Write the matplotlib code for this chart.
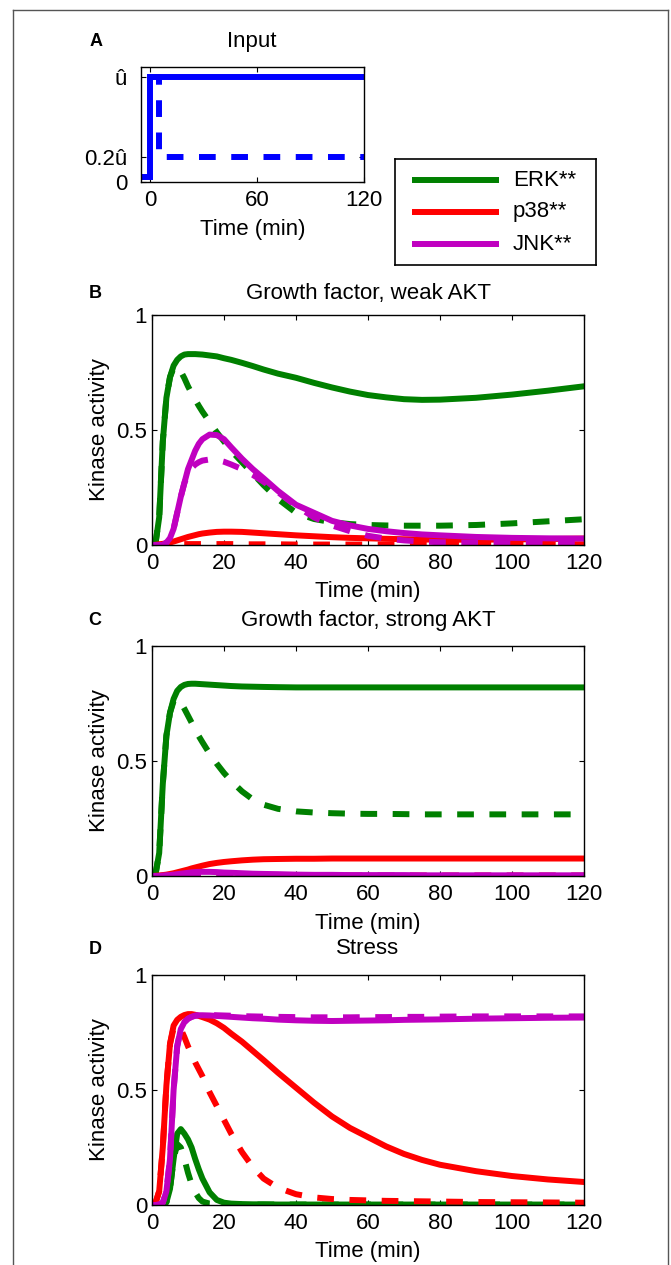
import numpy as np
import matplotlib.pyplot as plt
from matplotlib.lines import Line2D

plt.rcParams['font.family'] = ['Liberation Sans', 'DejaVu Sans']

# ---- data -----------------------------------------------------------------
# panel A, input signal
input_t_full = [-5, 0, 0, 120]
input_full = [0, 0, 1, 1]
input_t_pulse = [0, 5, 5, 120]
input_pulse = [1, 1, 0.2, 0.2]

# common time grid (min) for panels B-D
T = [0, 1, 2, 3, 4, 5, 6, 7, 8, 9, 10, 11, 12, 13, 14, 16, 18, 20, 22, 25,
     28, 31, 35, 40, 45, 50, 55, 60, 65, 70, 75, 80, 90, 100, 110, 120]

# B: growth factor, weak AKT  (solid = sustained input, dashed = transient)
erk_b = [0, 0.01, 0.12, 0.45, 0.64, 0.73, 0.78, 0.805, 0.82, 0.828,
         0.83, 0.83, 0.83, 0.829, 0.828, 0.824, 0.82, 0.812, 0.805, 0.792,
         0.778, 0.763, 0.745, 0.727, 0.705, 0.685, 0.667, 0.652, 0.642, 0.634,
         0.631, 0.632, 0.64, 0.654, 0.671, 0.69]
erk_b_tr = [0, 0.01, 0.12, 0.45, 0.64, 0.73, 0.77, 0.775, 0.755, 0.725,
            0.69, 0.66, 0.632, 0.605, 0.58, 0.535, 0.49, 0.45, 0.41, 0.36,
            0.31, 0.26, 0.2, 0.14, 0.113, 0.099, 0.091, 0.087, 0.085, 0.084,
            0.084, 0.084, 0.087, 0.094, 0.103, 0.112]
p38_b = [0, 0.001, 0.003, 0.005, 0.008, 0.011, 0.015, 0.02, 0.025, 0.03,
         0.035, 0.039, 0.043, 0.047, 0.05, 0.054, 0.057, 0.058, 0.058, 0.057,
         0.054, 0.051, 0.047, 0.042, 0.038, 0.034, 0.031, 0.029, 0.027, 0.025,
         0.024, 0.023, 0.023, 0.024, 0.026, 0.028]
p38_b_tr = [0, 0, 0.001, 0.001, 0.002, 0.003, 0.003, 0.004, 0.004, 0.004,
            0.004, 0.004, 0.004, 0.004, 0.004, 0.004, 0.004, 0.004, 0.004, 0.003,
            0.003, 0.003, 0.003, 0.002, 0.002, 0.002, 0.002, 0.002, 0.002, 0.002,
            0.002, 0.002, 0.002, 0.002, 0.002, 0.002]
jnk_b = [0, 0, 0, 0, 0.01, 0.03, 0.07, 0.14, 0.21, 0.27,
         0.33, 0.37, 0.41, 0.44, 0.46, 0.48, 0.478, 0.46, 0.425, 0.375,
         0.33, 0.29, 0.235, 0.175, 0.14, 0.105, 0.085, 0.07, 0.06, 0.052,
         0.046, 0.042, 0.035, 0.031, 0.029, 0.028]
jnk_b_tr = [0, 0, 0, 0, 0.01, 0.03, 0.07, 0.14, 0.21, 0.27,
            0.31, 0.335, 0.35, 0.36, 0.367, 0.372, 0.37, 0.362, 0.35, 0.33,
            0.305, 0.275, 0.23, 0.17, 0.12, 0.085, 0.06, 0.04, 0.028, 0.02,
            0.015, 0.012, 0.01, 0.008, 0.007, 0.006]

# C: growth factor, strong AKT
erk_c = [0, 0.01, 0.1, 0.4, 0.61, 0.71, 0.77, 0.805, 0.822, 0.831,
         0.835, 0.836, 0.836, 0.835, 0.834, 0.832, 0.83, 0.828, 0.826, 0.824,
         0.823, 0.822, 0.821, 0.82, 0.82, 0.82, 0.82, 0.82, 0.82, 0.82,
         0.82, 0.82, 0.82, 0.82, 0.82, 0.82]
erk_c_tr = [0, 0.01, 0.1, 0.4, 0.61, 0.71, 0.76, 0.77, 0.755, 0.727,
            0.697, 0.667, 0.637, 0.608, 0.582, 0.532, 0.488, 0.448, 0.413, 0.368,
            0.333, 0.31, 0.292, 0.281, 0.276, 0.273, 0.271, 0.27, 0.27, 0.269,
            0.268, 0.268, 0.268, 0.268, 0.268, 0.268]
p38_c = [0, 0.001, 0.002, 0.004, 0.006, 0.009, 0.012, 0.016, 0.02, 0.024,
         0.028, 0.033, 0.037, 0.041, 0.045, 0.052, 0.057, 0.061, 0.064, 0.068,
         0.071, 0.073, 0.074, 0.075, 0.075, 0.076, 0.076, 0.076, 0.076, 0.076,
         0.076, 0.076, 0.076, 0.076, 0.076, 0.076]
p38_c_tr = [0, 0, 0.001, 0.001, 0.001, 0.002, 0.002, 0.002, 0.002, 0.002,
            0.002, 0.002, 0.002, 0.002, 0.002, 0.002, 0.002, 0.002, 0.002, 0.002,
            0.002, 0.002, 0.002, 0.002, 0.002, 0.002, 0.002, 0.002, 0.002, 0.002,
            0.002, 0.002, 0.002, 0.002, 0.002, 0.002]
jnk_c = [0, 0, 0, 0.001, 0.002, 0.004, 0.006, 0.008, 0.01, 0.012,
         0.014, 0.016, 0.017, 0.018, 0.018, 0.018, 0.017, 0.015, 0.014, 0.012,
         0.01, 0.009, 0.008, 0.006, 0.005, 0.005, 0.004, 0.004, 0.004, 0.004,
         0.003, 0.003, 0.003, 0.003, 0.003, 0.003]
jnk_c_tr = [0, 0, 0, 0.001, 0.002, 0.003, 0.004, 0.005, 0.006, 0.007,
            0.008, 0.008, 0.008, 0.008, 0.008, 0.007, 0.007, 0.006, 0.005, 0.004,
            0.004, 0.003, 0.003, 0.002, 0.002, 0.002, 0.001, 0.001, 0.001, 0.001,
            0.001, 0.001, 0.001, 0.001, 0.001, 0.001]

# D: stress
erk_d = [0, 0, 0.002, 0.005, 0.012, 0.07, 0.2, 0.31, 0.33, 0.31,
         0.285, 0.25, 0.2, 0.155, 0.115, 0.055, 0.022, 0.01, 0.006, 0.004,
         0.003, 0.003, 0.002, 0.002, 0.002, 0.002, 0.002, 0.002, 0.002, 0.002,
         0.002, 0.002, 0.002, 0.002, 0.002, 0.002]
erk_d_tr = [0, 0, 0.002, 0.005, 0.012, 0.07, 0.2, 0.265, 0.25, 0.2,
            0.14, 0.09, 0.055, 0.03, 0.015, 0.006, 0.004, 0.003, 0.002, 0.002,
            0.002, 0.002, 0.002, 0.002, 0.002, 0.002, 0.002, 0.002, 0.002, 0.002,
            0.002, 0.002, 0.002, 0.002, 0.002, 0.002]
p38_d = [0, 0.01, 0.06, 0.25, 0.52, 0.7, 0.78, 0.805, 0.818, 0.826,
         0.83, 0.83, 0.827, 0.822, 0.817, 0.806, 0.79, 0.77, 0.745, 0.71,
         0.67, 0.63, 0.575, 0.51, 0.445, 0.385, 0.335, 0.295, 0.255, 0.222,
         0.196, 0.175, 0.147, 0.126, 0.111, 0.1]
p38_d_tr = [0, 0.01, 0.06, 0.25, 0.52, 0.7, 0.77, 0.78, 0.765, 0.73,
            0.69, 0.655, 0.62, 0.59, 0.56, 0.49, 0.43, 0.37, 0.31, 0.23,
            0.165, 0.115, 0.075, 0.047, 0.033, 0.026, 0.022, 0.02, 0.018, 0.017,
            0.016, 0.015, 0.013, 0.012, 0.011, 0.01]
jnk_d = [0, 0, 0.002, 0.01, 0.06, 0.2, 0.5, 0.69, 0.765, 0.795,
         0.81, 0.818, 0.823, 0.825, 0.825, 0.824, 0.822, 0.82, 0.818, 0.815,
         0.812, 0.81, 0.806, 0.803, 0.801, 0.8, 0.801, 0.802, 0.803, 0.805,
         0.806, 0.807, 0.81, 0.812, 0.814, 0.815]
jnk_d_tr = [0, 0, 0.002, 0.01, 0.06, 0.2, 0.5, 0.69, 0.765, 0.795,
            0.81, 0.818, 0.823, 0.825, 0.826, 0.826, 0.825, 0.824, 0.823, 0.821,
            0.82, 0.819, 0.818, 0.817, 0.816, 0.816, 0.816, 0.817, 0.817, 0.818,
            0.818, 0.819, 0.82, 0.82, 0.82, 0.82]

kinases = ['ERK**', 'p38**', 'JNK**']
titles = ['Growth factor, weak AKT', 'Growth factor, strong AKT', 'Stress']
letters = ['B', 'C', 'D']

# ---- style ----------------------------------------------------------------
W, H = 671, 1265
FS = 16
LW = 4.3
DASH = (2.8, 2.6)
colors = ['#008000', '#ff0000', '#c000c0']


def px_axes(fig, left, top, right, bottom):
    """add axes from pixel box (origin top-left)"""
    return fig.add_axes([left / W, 1 - bottom / H, (right - left) / W, (bottom - top) / H])


def style_axes(ax, ypad):
    ax.tick_params(direction='in', top=True, right=True, length=3.5, width=0.8,
                   labelsize=FS, pad=6)
    ax.tick_params(axis='y', pad=ypad)
    for s in ax.spines.values():
        s.set_linewidth(1.0)


fig = plt.figure(figsize=(W / 100, H / 100), dpi=100)

# outer frame (open at the bottom)
for xs, ys in [([13, 13], [10, H]), ([13, 668], [10, 10]), ([668, 668], [10, H])]:
    fig.add_artist(Line2D([x / W for x in xs], [1 - y / H for y in ys],
                          transform=fig.transFigure, color='#555555', lw=1.0))

# ---- panel A --------------------------------------------------------------
axA = px_axes(fig, 141, 67, 364, 182)
axA.plot(input_t_full, input_full, color='blue', lw=LW, solid_joinstyle='miter')
axA.plot(input_t_pulse, input_pulse, color='blue', lw=LW, dashes=DASH)
axA.set_xlim(-5, 120)
axA.set_ylim(-0.05, 1.1)
axA.set_xticks([0, 60, 120])
# the "0" label sits on the bottom edge in the original figure
axA.set_yticks([-0.05, 0.2, 1])
axA.set_yticklabels(['0', '0.2û', 'û'])
style_axes(axA, 10)
axA.set_xlabel('Time (min)', fontsize=FS, va='center')
axA.xaxis.set_label_coords(0.5, -48 / 115)
fig.text(252 / W, 1 - 42 / H, 'Input', fontsize=FS, ha='center', va='center')
fig.text(96 / W, 1 - 42 / H, 'A', fontsize=13, weight='bold', ha='center', va='center')

# legend box drawn by hand so the padding matches
lax = px_axes(fig, 395, 159, 596, 265)
lax.set_xlim(0, 201)
lax.set_ylim(106, 0)
lax.set_xticks([])
lax.set_yticks([])
for s in lax.spines.values():
    s.set_linewidth(1.2)
for i, (name, c) in enumerate(zip(kinases, colors)):
    y = 21 + 32 * i
    lax.plot([17, 104], [y, y], color=c, lw=LW, solid_capstyle='butt')
    lax.text(118, y, name, fontsize=FS, va='center', ha='left')

# ---- panels B-D -----------------------------------------------------------
panels = [
    ([erk_b, p38_b, jnk_b], [erk_b_tr, p38_b_tr, jnk_b_tr]),
    ([erk_c, p38_c, jnk_c], [erk_c_tr, p38_c_tr, jnk_c_tr]),
    ([erk_d, p38_d, jnk_d], [erk_d_tr, p38_d_tr, jnk_d_tr]),
]
tops = [315, 646, 975]
title_y = [293, 620, 949]
letter_y = [293, 620, 950]

for k, (sust, trans) in enumerate(panels):
    top = tops[k]
    ax = px_axes(fig, 152, top, 584, top + 230)
    for c, ys, yt in zip(colors, sust, trans):
        ax.plot(T, ys, color=c, lw=LW)
        ax.plot(T, yt, color=c, lw=LW, dashes=DASH)
    ax.set_xlim(0, 120)
    ax.set_ylim(0, 1)
    ax.set_xticks(np.arange(0, 121, 20))
    ax.set_yticks([0, 0.5, 1])
    ax.set_yticklabels(['0', '0.5', '1'])
    style_axes(ax, 3.5)
    ax.set_xlabel('Time (min)', fontsize=FS, va='center')
    ax.xaxis.set_label_coords(0.5, -47 / 230)
    ax.set_ylabel('Kinase activity', fontsize=FS, va='center')
    ax.yaxis.set_label_coords(-53 / 432, 0.5)
    fig.text(368 / W, 1 - title_y[k] / H, titles[k], fontsize=FS, ha='center', va='center')
    fig.text(95 / W, 1 - letter_y[k] / H, letters[k], fontsize=13, weight='bold',
             ha='center', va='center')

fig.savefig('out.png', dpi=100)
